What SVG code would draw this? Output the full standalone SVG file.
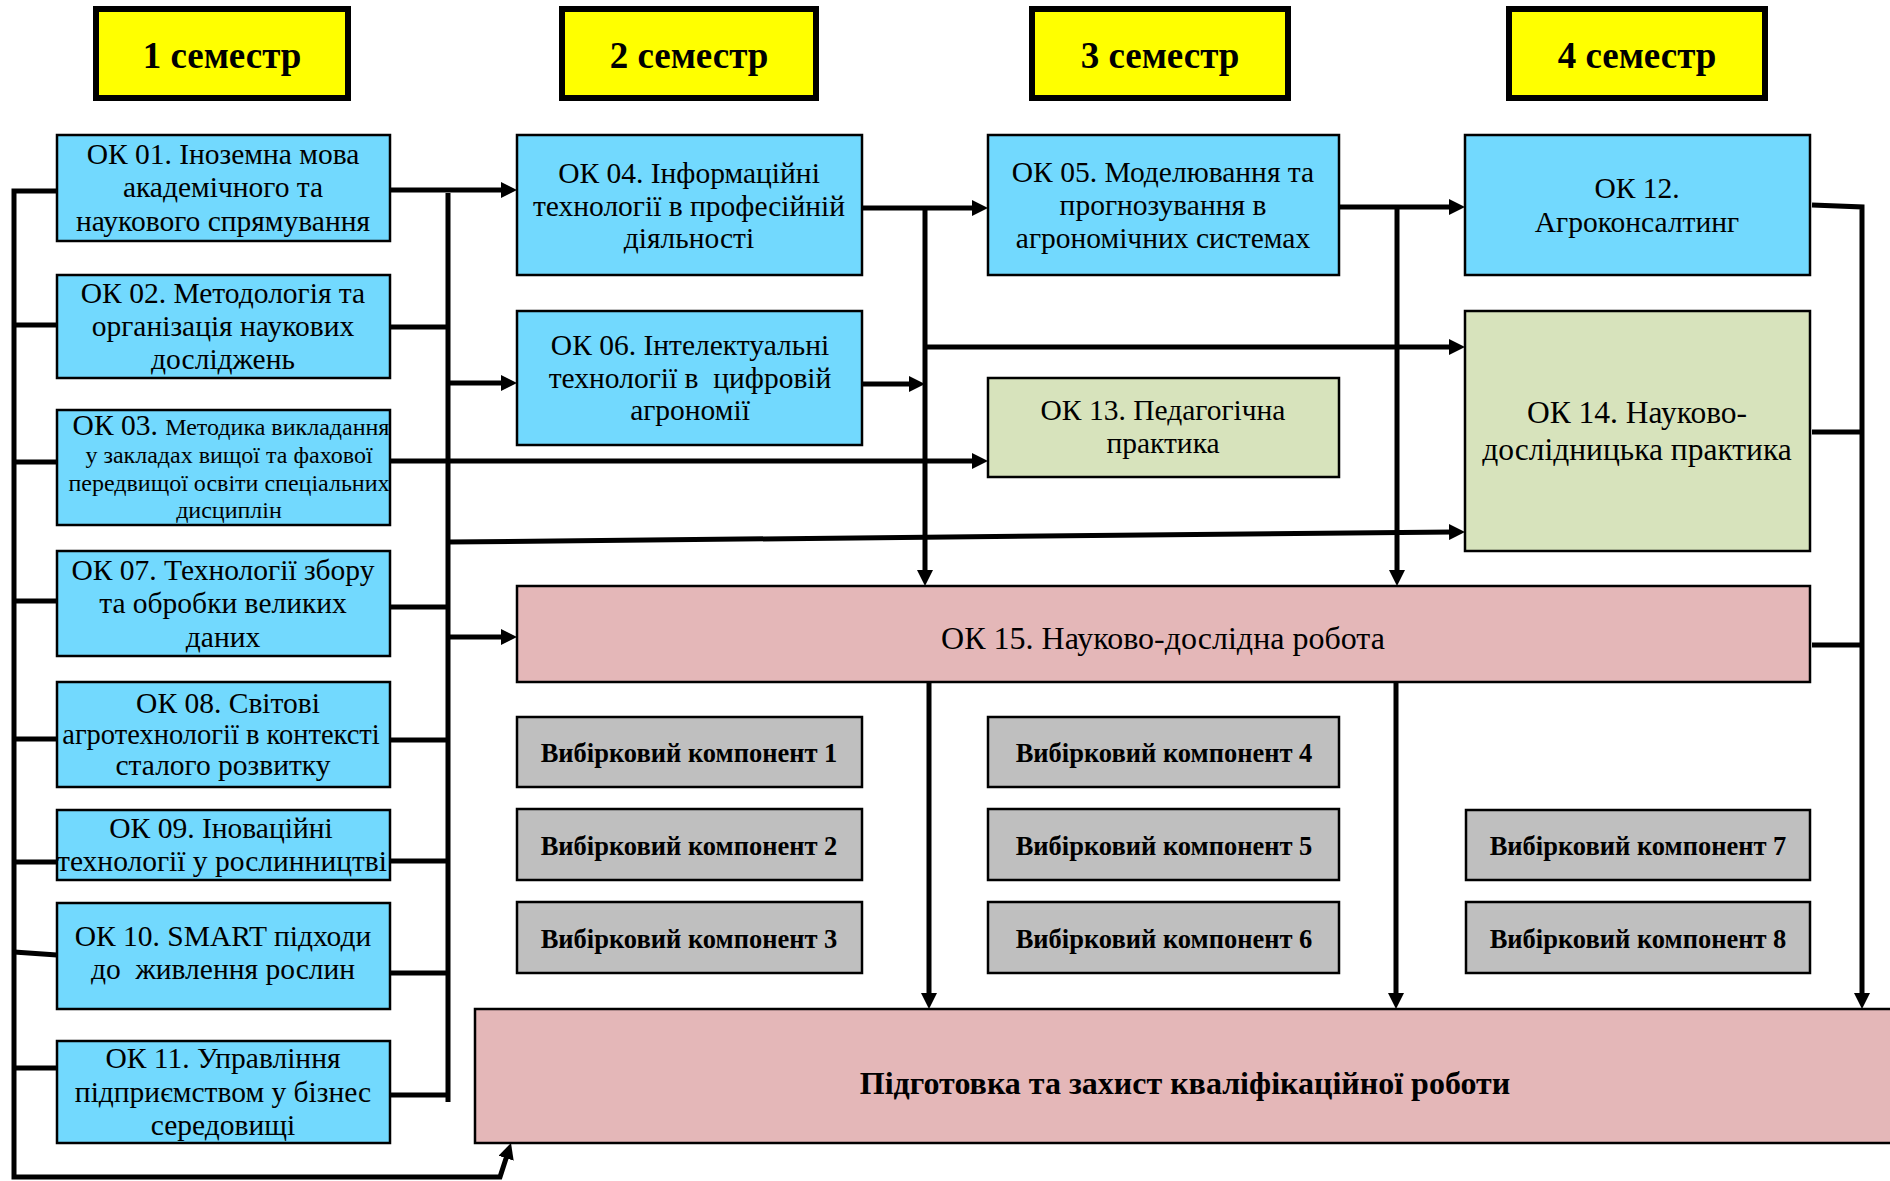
<svg xmlns="http://www.w3.org/2000/svg" width="1890" height="1181" viewBox="0 0 1890 1181">
<style>
.sem{fill:#FFFF00;stroke:#000;stroke-width:6}
.semt{font-family:"Liberation Serif",serif;font-weight:bold;font-size:37px;text-anchor:middle;fill:#000}
.b{fill:#72D9FE;stroke:#000;stroke-width:2.5}
.g{fill:#D7E3BC;stroke:#000;stroke-width:2.5}
.p{fill:#E4B7B8;stroke:#000;stroke-width:2.5}
.v{fill:#BFBFBF;stroke:#000;stroke-width:2.5}
.t{font-family:"Liberation Serif",serif;font-size:29.5px;text-anchor:middle;fill:#000;white-space:pre}
.s{font-size:24px}
.tb{font-family:"Liberation Serif",serif;font-weight:bold;font-size:26.5px;text-anchor:middle;fill:#000}
.tbb{font-family:"Liberation Serif",serif;font-weight:bold;font-size:32px;text-anchor:middle;fill:#000}
.c{fill:none;stroke:#000;stroke-width:5}
</style>
<defs>
<marker id="ah" markerUnits="userSpaceOnUse" markerWidth="16" markerHeight="16" refX="4" refY="8" orient="auto">
<path d="M0,0 L16,8 L0,16 z" fill="#000"/>
</marker>
</defs>

<g id="sem1"><rect class="sem" x="96" y="9" width="252" height="89"/><text class="semt" x="222" y="68">1 семестр</text></g>
<g id="sem2"><rect class="sem" x="562" y="9" width="254" height="89"/><text class="semt" x="689" y="68">2 семестр</text></g>
<g id="sem3"><rect class="sem" x="1032" y="9" width="256" height="89"/><text class="semt" x="1160" y="68">3 семестр</text></g>
<g id="sem4"><rect class="sem" x="1509" y="9" width="256" height="89"/><text class="semt" x="1637" y="68">4 семестр</text></g>

<g id="connectors">
<path class="c" d="M57 191 H14 V1177 H500 L507.3 1154.4" marker-end="url(#ah)"/>
<path class="c" d="M14 325 H57 M14 462 H57 M14 601 H57 M14 739 H57 M14 862 H57 M14 952 L57 955 M14 1068 H57"/>
<path class="c" d="M448 193 V1102"/>
<path class="c" d="M390 327 H448 M390 607 H448 M390 740 H448 M390 861 H448 M390 973 H448 M390 1095 H448"/>
<path class="c" d="M390 190 H505" marker-end="url(#ah)"/>
<path class="c" d="M448 383 H505" marker-end="url(#ah)"/>
<path class="c" d="M390 461 H976" marker-end="url(#ah)"/>
<path class="c" d="M448 542 L1453 532" marker-end="url(#ah)"/>
<path class="c" d="M448 637 H505" marker-end="url(#ah)"/>
<path class="c" d="M862 208 H976" marker-end="url(#ah)"/>
<path class="c" d="M925 208 V574" marker-end="url(#ah)"/>
<path class="c" d="M862 384 H913" marker-end="url(#ah)"/>
<path class="c" d="M925 347 H1453" marker-end="url(#ah)"/>
<path class="c" d="M929 680 V997" marker-end="url(#ah)"/>
<path class="c" d="M1339 207 H1453" marker-end="url(#ah)"/>
<path class="c" d="M1397 207 V574" marker-end="url(#ah)"/>
<path class="c" d="M1396 675 V997" marker-end="url(#ah)"/>
<path class="c" d="M1812 205 L1862 207 V997" marker-end="url(#ah)"/>
<path class="c" d="M1812 432 H1862 M1812 645 H1862"/>
</g>

<g id="ok01"><rect class="b" x="57" y="135" width="333" height="106"/>
<text class="t" x="223" y="164">ОК 01. Іноземна мова</text><text class="t" x="223" y="197">академічного та</text><text class="t" x="223" y="231">наукового спрямування</text></g>
<g id="ok02"><rect class="b" x="57" y="275" width="333" height="103"/>
<text class="t" x="223" y="303">ОК 02. Методологія та</text><text class="t" x="223" y="336">організація наукових</text><text class="t" x="223" y="369">досліджень</text></g>
<g id="ok03"><rect class="b" x="57" y="410" width="333" height="115"/>
<text class="t" x="231" y="435">ОК 03. <tspan class="s">Методика викладання</tspan></text><text class="t s" x="229" y="463">у закладах вищої та фахової</text><text class="t s" x="229" y="491">передвищої освіти спеціальних</text><text class="t s" x="229" y="518">дисциплін</text></g>
<g id="ok07"><rect class="b" x="57" y="551" width="333" height="105"/>
<text class="t" x="223" y="580">ОК 07. Технології збору</text><text class="t" x="223" y="613">та обробки великих</text><text class="t" x="223" y="647">даних</text></g>
<g id="ok08"><rect class="b" x="57" y="682" width="333" height="105"/>
<text class="t" x="228" y="713">ОК 08. Світові</text><text class="t" x="221" y="744" style="font-size:28.5px">агротехнології в контексті</text><text class="t" x="223" y="775">сталого розвитку</text></g>
<g id="ok09"><rect class="b" x="57" y="810" width="333" height="70"/>
<text class="t" x="221" y="838">ОК 09. Іноваційні</text><text class="t" x="222" y="871">технології у рослинництві</text></g>
<g id="ok10"><rect class="b" x="57" y="903" width="333" height="106"/>
<text class="t" x="223" y="946">ОК 10. SMART підходи</text><text class="t" x="223" y="979">до  живлення рослин</text></g>
<g id="ok11"><rect class="b" x="57" y="1041" width="333" height="102"/>
<text class="t" x="223" y="1068">ОК 11. Управління</text><text class="t" x="223" y="1102">підприємством у бізнес</text><text class="t" x="223" y="1135">середовищі</text></g>

<g id="ok04"><rect class="b" x="517" y="135" width="345" height="140"/>
<text class="t" x="689" y="183">ОК 04. Інформаційні</text><text class="t" x="689" y="216">технології в професійній</text><text class="t" x="689" y="248">діяльності</text></g>
<g id="ok06"><rect class="b" x="517" y="311" width="345" height="134"/>
<text class="t" x="690" y="355">ОК 06. Інтелектуальні</text><text class="t" x="690" y="388">технології в  цифровій</text><text class="t" x="690" y="420">агрономії</text></g>

<g id="ok05"><rect class="b" x="988" y="135" width="351" height="140"/>
<text class="t" x="1163" y="182">ОК 05. Моделювання та</text><text class="t" x="1163" y="215">прогнозування в</text><text class="t" x="1163" y="248">агрономічних системах</text></g>
<g id="ok13"><rect class="g" x="988" y="378" width="351" height="99"/>
<text class="t" x="1163" y="420">ОК 13. Педагогічна</text><text class="t" x="1163" y="453">практика</text></g>

<g id="ok12"><rect class="b" x="1465" y="135" width="345" height="140"/>
<text class="t" x="1637" y="198">ОК 12.</text><text class="t" x="1637" y="232">Агроконсалтинг</text></g>
<g id="ok14"><rect class="g" x="1465" y="311" width="345" height="240"/>
<text class="t" x="1637" y="423" style="font-size:31.5px">ОК 14. Науково-</text><text class="t" x="1637" y="460" style="font-size:31.5px">дослідницька практика</text></g>

<g id="ok15"><rect class="p" x="517" y="586" width="1293" height="96"/>
<text class="t" x="1163" y="649" style="font-size:32px">ОК 15. Науково-дослідна робота</text></g>

<g id="vk1"><rect class="v" x="517" y="717" width="345" height="70"/><text class="tb" x="689" y="762">Вибірковий компонент 1</text></g>
<g id="vk2"><rect class="v" x="517" y="809" width="345" height="71"/><text class="tb" x="689" y="855">Вибірковий компонент 2</text></g>
<g id="vk3"><rect class="v" x="517" y="902" width="345" height="71"/><text class="tb" x="689" y="948">Вибірковий компонент 3</text></g>
<g id="vk4"><rect class="v" x="988" y="717" width="351" height="70"/><text class="tb" x="1164" y="762">Вибірковий компонент 4</text></g>
<g id="vk5"><rect class="v" x="988" y="809" width="351" height="71"/><text class="tb" x="1164" y="855">Вибірковий компонент 5</text></g>
<g id="vk6"><rect class="v" x="988" y="902" width="351" height="71"/><text class="tb" x="1164" y="948">Вибірковий компонент 6</text></g>
<g id="vk7"><rect class="v" x="1466" y="810" width="344" height="70"/><text class="tb" x="1638" y="855">Вибірковий компонент 7</text></g>
<g id="vk8"><rect class="v" x="1466" y="902" width="344" height="71"/><text class="tb" x="1638" y="948">Вибірковий компонент 8</text></g>

<g id="final"><rect class="p" x="475" y="1009" width="1420" height="134"/>
<text class="tbb" x="1185" y="1094">Підготовка та захист кваліфікаційної роботи</text></g>
</svg>
